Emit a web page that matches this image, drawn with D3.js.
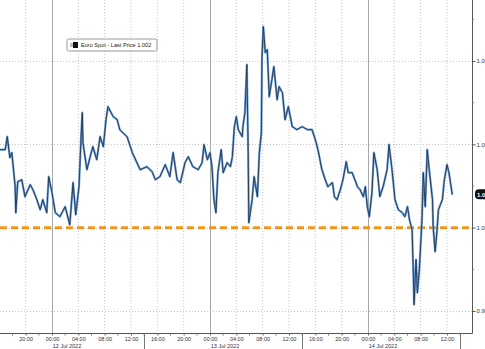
<!DOCTYPE html>
<html><head><meta charset="utf-8">
<script src="https://cdn.jsdelivr.net/npm/d3@7"></script>
<style>html,body{margin:0;padding:0;background:#fff;overflow:hidden}svg{display:block}</style>
</head><body>
<svg id="c" width="485" height="349"></svg>
<script>
// hours relative to 12 Jul 2022 00:00
const hours = [-7.9,-7.1,-6.8,-6.4,-6.1,-5.6,-5.5,-5.2,-4.6,-4.1,-3.3,-2.9,-2.3,-1.8,-1.4,-0.8,-0.5,0,0.5,1.2,2.0,2.7,3.2,3.6,4.1,4.4,4.6,4.7,5.3,5.8,6.2,6.8,7.3,7.8,8.2,8.5,9.3,9.9,10.3,11.4,12.2,12.9,13.4,14.4,15.2,15.7,16.4,17.2,17.9,18.4,19.0,19.5,20.2,20.7,21.4,22.2,22.8,23.1,23.6,24.0,24.3,24.6,24.9,25.2,25.7,26.0,26.6,27.1,27.4,27.7,28.0,28.3,28.9,29.0,29.3,29.6,29.8,29.9,30.4,30.7,31.2,31.5,31.8,31.9,32.1,32.4,32.7,33.0,33.4,33.7,34.2,34.5,35.0,35.4,35.9,36.5,37.2,38.0,38.8,39.5,40.0,40.4,41.0,41.5,41.9,42.6,42.9,43.3,43.8,44.2,44.7,45.0,45.6,46.4,46.8,47.3,47.6,47.9,48.2,48.6,48.9,49.4,49.8,50.3,50.9,51.2,51.7,52.1,52.6,53.2,53.6,54.0,54.3,54.7,54.9,55.0,55.3,55.5,55.8,56.2,56.4,56.7,57.0,57.3,57.8,57.9,58.2,58.5,58.7,59.3,59.6,60.0,60.3,60.8];
const prices = [1.00468,1.00468,1.00546,1.00420,1.00450,1.00246,1.00090,1.00276,1.00288,1.00186,1.00258,1.00228,1.00168,1.00108,1.00168,1.00090,1.00306,1.00210,1.00090,1.00066,1.00126,1.00018,1.00270,1.00078,1.00246,1.00528,1.00690,1.00510,1.00348,1.00426,1.00486,1.00408,1.00546,1.00486,1.00648,1.00726,1.00666,1.00648,1.00588,1.00546,1.00450,1.00390,1.00348,1.00366,1.00336,1.00288,1.00306,1.00378,1.00306,1.00450,1.00288,1.00270,1.00390,1.00426,1.00366,1.00348,1.00390,1.00498,1.00408,1.00450,1.00366,1.00168,1.00090,1.00330,1.00468,1.00330,1.00390,1.00366,1.00426,1.00606,1.00666,1.00588,1.00546,1.00606,1.00690,1.00978,1.00450,1.00030,1.00168,1.00306,1.00186,1.00450,1.00570,1.01026,1.01206,1.01050,1.01068,1.00786,1.00888,1.00966,1.00768,1.00846,1.00810,1.00648,1.00726,1.00606,1.00588,1.00606,1.00588,1.00588,1.00528,1.00468,1.00348,1.00288,1.00246,1.00270,1.00186,1.00168,1.00228,1.00288,1.00396,1.00330,1.00330,1.00246,1.00228,1.00186,1.00246,1.00126,1.00066,1.00210,1.00450,1.00348,1.00186,1.00246,1.00348,1.00498,1.00330,1.00168,1.00108,1.00090,1.00066,1.00126,1.00048,0.99988,0.99706,0.99538,0.99808,0.99610,0.99748,1.00048,1.00330,1.00126,1.00468,1.00348,1.00168,1.00006,0.99856,0.99988,1.00108,1.00168,1.00288,1.00378,1.00330,1.00198];
const yTicks = [0.995, 1.000, 1.005, 1.010];
const yLabels = ["0.995", "1.000", "1.005", "1.010"];
const refLevel = 1.000;
const lastPrice = 1.002;
const legendText = "Euro Spot - Last Price 1.002";
const dayLabels = ["12 Jul 2022", "13 Jul 2022", "14 Jul 2022"];
const dayStarts = ["2022-07-12T00:00:00Z", "2022-07-13T00:00:00Z", "2022-07-14T00:00:00Z"];

const base = Date.UTC(2022, 6, 12, 0, 0);
const H = 3600e3;
const data = hours.map((h, i) => ({t: new Date(base + h * H), v: prices[i]}));

const W = 472, B = 333;
const svg = d3.select("#c");
const x = d3.scaleUtc().domain([new Date(base - 7.9 * H), new Date(base + 63.8 * H)]).range([0, W]);
const y = d3.scaleLinear().domain([0.99368, 1.01366]).range([B, 0]);

const font = "'Liberation Sans', Arial, sans-serif";

// vertical grid (4h ticks)
const xTicks = d3.utcHour.every(4).range(new Date(base - 4 * H), new Date(base + 63 * H));
const isMid = d => d.getUTCHours() === 0;
svg.append("g").selectAll("line").data(xTicks.filter(d => !isMid(d))).join("line")
  .attr("x1", d => x(d)).attr("x2", d => x(d)).attr("y1", 0).attr("y2", B)
  .attr("stroke", "#c4c4c4").attr("stroke-width", 1).attr("stroke-dasharray", "1,2");
// horizontal grid
svg.append("g").selectAll("line").data(yTicks).join("line")
  .attr("x1", 0).attr("x2", W).attr("y1", d => Math.round(y(d)) + 0.5).attr("y2", d => Math.round(y(d)) + 0.5)
  .attr("stroke", "#c4c4c4").attr("stroke-width", 1).attr("stroke-dasharray", "1,2");
// midnight separators
svg.append("g").selectAll("line").data(xTicks.filter(isMid)).join("line")
  .attr("x1", d => Math.round(x(d)) + 0.5).attr("x2", d => Math.round(x(d)) + 0.5).attr("y1", 0).attr("y2", B)
  .attr("stroke", "#a8a8a8").attr("stroke-width", 1);

// orange reference line
svg.append("line").attr("x1", 0).attr("x2", W).attr("y1", y(refLevel)).attr("y2", y(refLevel))
  .attr("stroke", "#f0961e").attr("stroke-width", 3).attr("stroke-dasharray", "7,4");

// price line
const line = d3.line().x(d => x(d.t)).y(d => y(d.v));
svg.append("path").datum(data).attr("d", line).attr("fill", "none")
  .attr("stroke", "#6f9fd3").attr("stroke-width", 2.2).attr("stroke-linejoin", "round");
svg.append("path").datum(data).attr("d", line).attr("fill", "none")
  .attr("stroke", "#1f3450").attr("stroke-width", 0.9).attr("stroke-linejoin", "round");

// axes lines
svg.append("line").attr("x1", 0).attr("x2", W + 0.5).attr("y1", B + 0.5).attr("y2", B + 0.5).attr("stroke", "#555");
svg.append("line").attr("x1", W + 0.5).attr("x2", W + 0.5).attr("y1", 0).attr("y2", B + 0.5).attr("stroke", "#555");

// right axis
const yAxis = svg.append("g").attr("transform", `translate(${W + 0.5},0)`)
  .call(d3.axisRight(y).tickValues(yTicks).tickSize(3).tickFormat((d, i) => yLabels[i]));
yAxis.select(".domain").remove();
yAxis.selectAll("line").attr("stroke", "#555");
yAxis.selectAll("text").attr("x", 4).style("font", `6px ${font}`).attr("fill", "#333");
// minor y ticks
const yMinor = d3.range(0, 5).map(i => 0.9925 + i * 0.005).filter(v => v > 0.9937 && v < 1.0136);
svg.append("g").selectAll("line").data(yMinor).join("line")
  .attr("x1", W).attr("x2", W + 2).attr("y1", d => y(d)).attr("y2", d => y(d)).attr("stroke", "#777");

// last price badge
const by = y(lastPrice);
svg.append("rect").attr("x", W + 3).attr("y", by - 5).attr("width", 22).attr("height", 10).attr("rx", 4).attr("fill", "#111");
svg.append("text").attr("x", W + 5).attr("y", by + 2.2).text(lastPrice.toFixed(3))
  .style("font", `bold 6px ${font}`).attr("fill", "#fff");

// bottom axis
const xAxis = svg.append("g").attr("transform", `translate(0,${B + 0.5})`)
  .call(d3.axisBottom(x).tickValues(xTicks).tickSize(2).tickFormat(d3.utcFormat("%H:%M")));
xAxis.select(".domain").remove();
xAxis.selectAll("line").attr("stroke", "#666");
xAxis.selectAll("text").attr("dy", 0).attr("y", 7.5).style("font", `5.5px ${font}`).attr("fill", "#333");
// minor x ticks
const xMinor = d3.utcHour.every(2).range(new Date(base - 7 * H), new Date(base + 63 * H)).filter(d => d.getUTCHours() % 4 !== 0);
svg.append("g").selectAll("line").data(xMinor).join("line")
  .attr("x1", d => x(d)).attr("x2", d => x(d)).attr("y1", B).attr("y2", B + 2.5).attr("stroke", "#777");
// session separators in axis band (14:00)
const seps = d3.utcHour.every(1).range(new Date(base - 7 * H), new Date(base + 63 * H)).filter(d => d.getUTCHours() === 14);
svg.append("g").selectAll("line").data(seps).join("line")
  .attr("x1", d => Math.round(x(d)) + 0.5).attr("x2", d => Math.round(x(d)) + 0.5).attr("y1", B).attr("y2", 349)
  .attr("stroke", "#777");
// day labels
svg.append("g").selectAll("text").data(dayLabels).join("text")
  .attr("x", (d, i) => x(new Date(dayStarts[i])) + 15).attr("y", 347.5).attr("text-anchor", "middle")
  .text(d => d).style("font", `5.5px ${font}`).attr("fill", "#333");

// legend
const lg = svg.append("g").attr("transform", "translate(67,39)");
lg.append("rect").attr("width", 90).attr("height", 12).attr("rx", 1.5).attr("fill", "#fff").attr("stroke", "#999");
lg.append("rect").attr("x", 3).attr("y", 4).attr("width", 3).attr("height", 4).attr("fill", "#bbb");
lg.append("rect").attr("x", 6).attr("y", 3).attr("width", 5).attr("height", 6).attr("fill", "#111");
lg.append("text").attr("x", 14).attr("y", 8.3).text(legendText).style("font", `5.6px ${font}`).attr("fill", "#222");
</script>
</body></html>
